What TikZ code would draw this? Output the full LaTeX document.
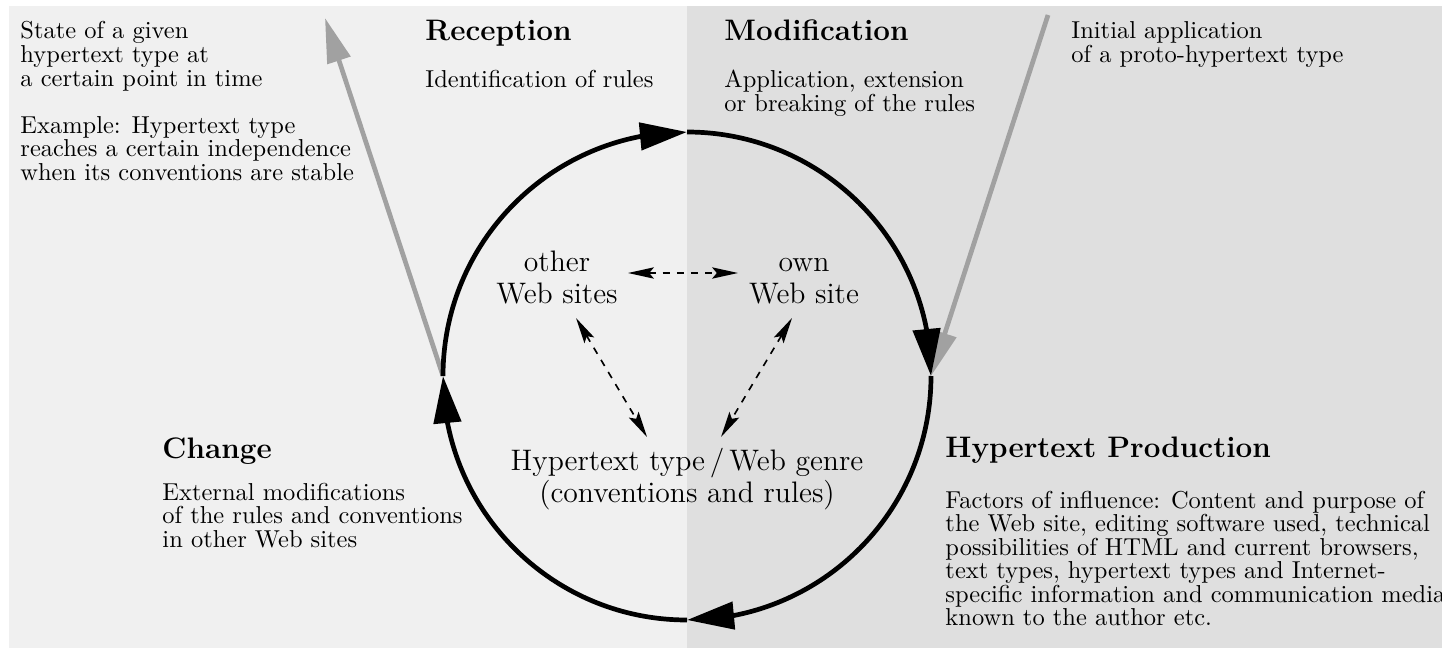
\RequirePackage{fix-cm}
\documentclass[tikz,border=0pt]{standalone}
\usetikzlibrary{arrows.meta,bending,calc}
\definecolor{paneleft}{gray}{0.94}
\definecolor{paneright}{gray}{0.875}
\definecolor{arrowgray}{gray}{0.63}
% stacked lines with a fixed baseline distance; the box baseline is the first line
\newcommand{\leftlines}[2][10pt]{\vtop{\baselineskip=#1\relax\lineskiplimit=-\maxdimen\halign{##\hfil\cr#2\crcr}}}
\newcommand{\midlines}[2][13.6pt]{\vtop{\baselineskip=#1\relax\lineskiplimit=-\maxdimen\halign{\hfil##\hfil\cr#2\crcr}}}
\newcommand{\bodysize}{\fontsize{10.4}{10}\selectfont}
\newcommand{\bigsize}{\fontsize{12.6}{14}\selectfont}
\begin{document}
\begin{tikzpicture}[x=0.425pt,y=0.425pt,
  txt/.style={inner sep=0pt, anchor=base west, font=\bodysize},
  head/.style={inner sep=0pt, anchor=base west, font=\bigsize\bfseries},
  mid/.style={inner sep=0pt, anchor=base, font=\bigsize},
  cycle arc/.style={line width=2pt, -{Triangle[length=20pt,width=11.5pt]}},
  feed/.style={draw=arrowgray, fill=arrowgray, line width=2pt, -{Triangle[length=19pt,width=10pt]}},
  link/.style={line width=0.7pt, dash pattern=on 3pt off 3pt,
    {Stealth[length=11pt,width=4.8pt,inset=2pt]}-{Stealth[length=11pt,width=4.8pt,inset=2pt]}}]

% panels
\useasboundingbox (0,0) rectangle (1442,-648);
\fill[paneleft] (9,-6) rectangle (687,-648);
\fill[paneright] (687,-6) rectangle (1442,-648);

% points of the cycle
\coordinate (hub) at (687,-376);
\coordinate (cL) at (443,-376);
\coordinate (cT) at (687,-132);
\coordinate (cR) at (931,-376);
\coordinate (cB) at (687,-620);

% entry and exit of the cycle
\coordinate (stateTip) at (325,-18);
\coordinate (initStart) at (1048,-15);
\draw[feed] (cL) -- (stateTip);
\draw[feed] (initStart) -- (cR);

% the cycle
\draw[cycle arc] (cL) arc[start angle=180,end angle=90,radius=244];
\draw[cycle arc] (cT) arc[start angle=90,end angle=0,radius=244];
\draw[cycle arc] (cR) arc[start angle=0,end angle=-90,radius=244];
\draw[cycle arc] (cB) arc[start angle=-90,end angle=-180,radius=244];

% phase texts
\node[txt] (state) at (20,-39) {\leftlines{State of a given\cr hypertext type at\cr a certain point in time\cr\cr Example: Hypertext type\cr reaches a certain independence\cr when its conventions are stable}};
\node[head] (reception) at (425,-41) {Reception};
\node[txt] (recdesc) at (425,-88) {Identification of rules};
\node[head] (modification) at (724,-41) {Modification};
\node[txt] (moddesc) at (724,-88) {\leftlines{Application, extension\cr or breaking of the rules}};
\node[txt] (initial) at (1071,-39) {\leftlines{Initial application\cr of a proto-hypertext type}};
\node[head] (change) at (162,-458) {Change};
\node[txt] (changedesc) at (162,-500) {\leftlines{External modifications\cr of the rules and conventions\cr in other Web sites}};
\node[head] (production) at (945,-457) {Hypertext Production};
\node[txt] (factors) at (945,-508) {\leftlines{Factors of influence: Content and purpose of\cr the Web site, editing software used, technical\cr possibilities of HTML and current browsers,\cr text types, hypertext types and Internet-\cr specific information and communication media\cr known to the author etc.}};

% inner triangle
\node[mid] (other) at (557,-272) {\midlines{other\cr Web sites}};
\node[mid] (own) at (804,-272) {\midlines{own\cr Web site}};
\node[mid] (genre) at (687,-470) {\midlines[14pt]{Hypertext type\,/\,Web genre\cr(conventions and rules)}};

\draw[link] ($(other.base)+(71,-1)$) -- ($(own.base)+(-66,-1)$);
\draw[link] ($(other.base)+(19,-46)$) -- ($(genre.base)+(-40,33)$);
\draw[link] ($(own.base)+(-12,-46)$) -- ($(genre.base)+(34,33)$);
\end{tikzpicture}
\end{document}
